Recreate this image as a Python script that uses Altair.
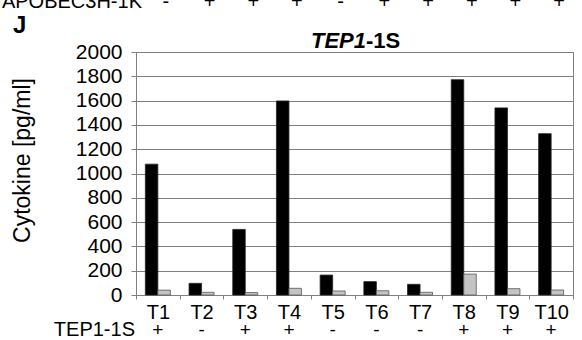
import altair as alt
import pandas as pd

samples = ["T1", "T2", "T3", "T4", "T5", "T6", "T7", "T8", "T9", "T10"]
black_vals = [1077, 96, 540, 1597, 164, 110, 88, 1772, 1540, 1328]
gray_vals = [40, 22, 20, 55, 33, 35, 22, 172, 52, 41]
tep_signs = ["+", "-", "+", "+", "-", "-", "-", "+", "+", "+"]
apobec_signs = ["-", "+", "+", "+", "-", "+", "+", "+", "+", "+"]
y_ticks = [0, 200, 400, 600, 800, 1000, 1200, 1400, 1600, 1800, 2000]

FONT = "Liberation Sans"
W, H = 437, 243

rows = []
for s, b, g in zip(samples, black_vals, gray_vals):
    rows.append({"sample": s, "series": "a", "value": b})
    rows.append({"sample": s, "series": "b", "value": g})
df = pd.DataFrame(rows)
signs_df = pd.DataFrame({"sample": samples, "tep": tep_signs, "apo": apobec_signs})

xscale = alt.Scale(domain=samples, paddingInner=0, paddingOuter=0)

bars = alt.Chart(df).mark_bar(strokeWidth=0.8).encode(
    x=alt.X("sample:N", scale=xscale, sort=samples,
            axis=alt.Axis(title=None, labelAngle=0, labelFont=FONT, labelFontSize=20,
                          labelColor="black", tickBand="extent", tickSize=4,
                          tickColor="#808080", domainColor="#808080", labelPadding=3,
                          grid=False)),
    xOffset=alt.XOffset("series:N", scale=alt.Scale(domain=["a", "b"], paddingInner=0, paddingOuter=0.748)),
    y=alt.Y("value:Q", scale=alt.Scale(domain=[0, 2000], nice=False),
            axis=alt.Axis(values=y_ticks, format="d", title="Cytokine [pg/ml]", titleFont=FONT,
                          titleFontSize=23, titleFontWeight="normal", titleColor="black",
                          titleX=-114, titleY=108, titleAngle=-90, titleAlign="center",
                          titleBaseline="middle",
                          labelFont=FONT, labelFontSize=21, labelColor="black",
                          tickSize=5, tickColor="#808080", domainColor="#808080",
                          labelPadding=9, gridColor="#808080", gridWidth=1)),
    color=alt.Color("series:N", scale=alt.Scale(domain=["a", "b"], range=["#000000", "#c4c4c4"]), legend=None),
    stroke=alt.Stroke("series:N", scale=alt.Scale(domain=["a", "b"], range=["#222222", "#555555"]), legend=None),
)

tep_row = alt.Chart(signs_df).mark_text(font=FONT, fontSize=19, baseline="alphabetic", color="black").encode(
    x=alt.X("sample:N", scale=xscale, sort=samples),
    y=alt.value(284),
    text="tep:N",
)

apo_row = alt.Chart(signs_df).mark_text(font=FONT, fontSize=20, baseline="alphabetic", color="black", dx=8).encode(
    x=alt.X("sample:N", scale=xscale, sort=samples),
    y=alt.value(-44),
    text="apo:N",
)

def label(text, x, y, size, align="left", weight="normal", style="normal"):
    return alt.Chart(pd.DataFrame({"t": [text]})).mark_text(
        font=FONT, fontSize=size, align=align, baseline="alphabetic",
        fontWeight=weight, fontStyle=style, color="black"
    ).encode(x=alt.value(x), y=alt.value(y), text="t:N")

labels = [
    label("TEP1-1S", -1, 284, 20, align="right"),
    label("APOBEC3H-1K", 6, -44, 20, align="right"),
    label("J", -123, -19, 24, weight="bold"),
    label("TEP1", 230, -4, 22, align="right", weight="bold", style="italic"),
    label("-1S", 230, -4, 22, align="left", weight="bold"),
]

chart = alt.layer(bars, tep_row, apo_row, *labels).properties(
    width=W, height=H,
    autosize=alt.AutoSizeParams(type="none"),
    padding={"left": 136, "top": 52, "right": 9, "bottom": 45},
    background="white",
).configure_view(stroke="#808080", strokeWidth=1)

chart.save("out.html", embed_options={"renderer": "svg", "actions": False})
